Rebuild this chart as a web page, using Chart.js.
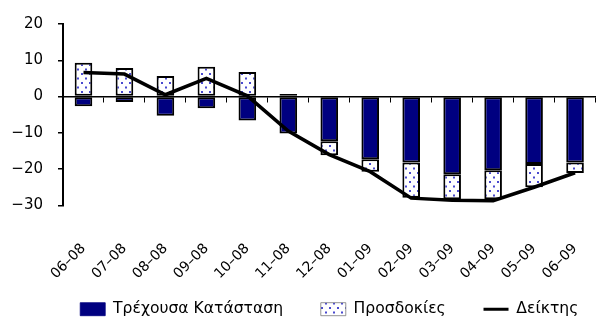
<!DOCTYPE html>
<html><head><meta charset="utf-8">
<script src="https://cdn.jsdelivr.net/npm/chart.js@4"></script>
<style>html,body{margin:0;padding:0;background:#fff}#wrap{width:614px;height:317px;position:relative}</style>
</head><body><div id="wrap"><canvas id="c"></canvas></div>
<script>
const categories = ['06–08','07–08','08–08','09–08','10–08','11–08','12–08','01–09','02–09','03–09','04–09','05–09','06–09'];
const currentSituation = [-2.7, -1.5, -5.3, -3.2, -6.6, -10.2, -12.3, -17.3, -18.2, -21.4, -20.3, -18.6, -18.2];
const expectations = [9.3, 7.9, 5.7, 8.2, 6.8, 0.7, -3.9, -3.4, -9.7, -6.9, -8.0, -6.4, -2.9];
const indexValues = [6.6, 6.2, 0.5, 5.0, 0.2, -9.5, -16.0, -20.7, -28.0, -28.6, -28.7, -25.0, -21.0];
const yTicks = [20, 10, 0, -10, -20, -30];
const seriesNames = ['Τρέχουσα Κατάσταση', 'Προσδοκίες', 'Δείκτης'];

const ctx = document.getElementById('c').getContext('2d');
function makePattern(){
  const p = document.createElement('canvas'); p.width = 8; p.height = 9;
  const g = p.getContext('2d');
  g.fillStyle = '#fff'; g.fillRect(0,0,8,9);
  g.fillStyle = '#4a4ad0';
  g.fillRect(1,1,2,2); g.fillRect(5,5.5,2,2);
  return ctx.createPattern(p, 'repeat');
}
const dots = makePattern();
const tickFont = {family: 'DejaVu Sans', size: 15};
const xFont = {family: 'DejaVu Sans', size: 14};
const legendFont = {family: 'DejaVu Sans', size: 15.6};
const legendGap = '\u00a0\u00a0\u00a0\u00a0\u00a0\u00a0';

new Chart(ctx, {
  type: 'bar',
  data: {
    labels: categories,
    datasets: [
      {label: seriesNames[0], data: currentSituation, backgroundColor: '#000080', borderColor: '#000', borderWidth: 2, borderSkipped: false, barPercentage: 0.43, categoryPercentage: 1, stack: 's', order: 1},
      {label: seriesNames[1], data: expectations, backgroundColor: dots, borderColor: '#000', borderWidth: 2, borderSkipped: false, barPercentage: 0.43, categoryPercentage: 1, stack: 's', order: 1},
      {type: 'line', label: seriesNames[2], data: indexValues, borderColor: '#000', backgroundColor: '#000', borderWidth: 3.5, pointRadius: 0, tension: 0, stack: 'line', order: 0, pointStyle: 'line'}
    ]
  },
  options: {
    responsive: true, maintainAspectRatio: false, animation: false,
    layout: {padding: {left: 0, right: 2, top: 16, bottom: -10}},
    plugins: {
      tooltip: {enabled: false},
      legend: {
        position: 'bottom', fullSize: false,
        labels: {
          color: '#000', font: legendFont, usePointStyle: true, pointStyleWidth: 25, boxHeight: 13, padding: 8,
          sort: (a, b) => a.datasetIndex - b.datasetIndex,
          generateLabels: (chart) => {
            const items = Chart.defaults.plugins.legend.labels.generateLabels(chart);
            items.forEach(it => {
              if (it.datasetIndex < 2) { it.pointStyle = 'rect'; it.lineWidth = 0.8; it.strokeStyle = it.datasetIndex === 0 ? '#000080' : '#777'; it.text = it.text + legendGap; }
              else { it.pointStyle = 'line'; it.lineWidth = 3; it.strokeStyle = '#000'; }
            });
            return items;
          }
        }
      }
    },
    scales: {
      x: {
        stacked: true, offset: true,
        afterFit: (s) => { s.height = 88; },
        grid: {display: false}, border: {display: false},
        ticks: {color: '#000', font: xFont, maxRotation: 45, minRotation: 45, padding: 27}
      },
      xz: {
        type: 'category', position: {y: 0}, offset: true,
        grid: {offset: true, drawOnChartArea: false, drawTicks: true, tickLength: 5, color: '#000'},
        border: {display: true, color: '#000', width: 1.5},
        ticks: {display: false}
      },
      y: {
        stacked: true, min: -30, max: 20,
        afterBuildTicks: (s) => { s.ticks = yTicks.map(v => ({value: v})); },
        afterFit: (s) => { s.width = 63; },
        grid: {drawOnChartArea: false, drawTicks: true, tickLength: 5, color: '#000', lineWidth: 1.5},
        border: {display: true, color: '#000', width: 2},
        ticks: {color: '#000', font: tickFont, padding: 15, callback: (v) => v < 0 ? '−' + Math.abs(v) : String(v)}
      }
    }
  }
});
</script>
</body></html>
